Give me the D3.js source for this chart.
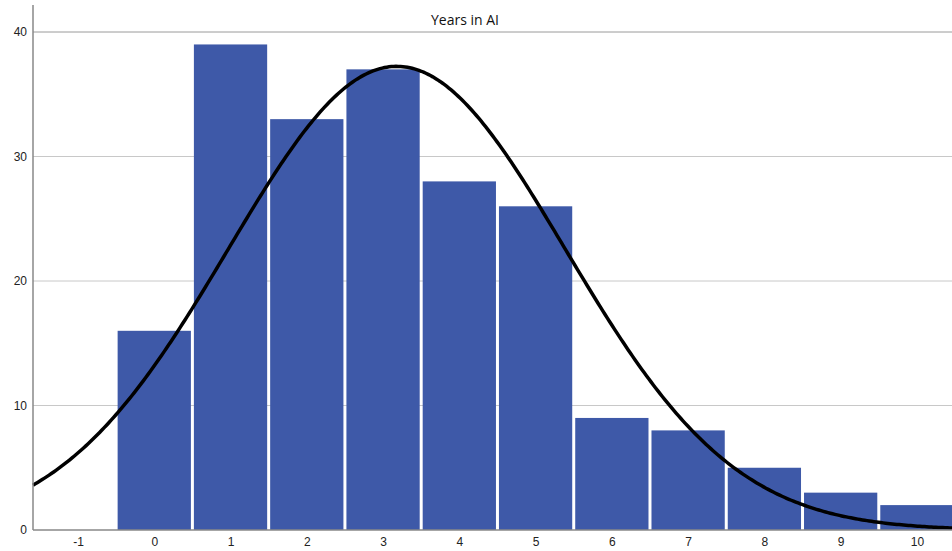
<!DOCTYPE html>
<html>
<head>
<meta charset="utf-8">
<script src="https://cdn.jsdelivr.net/npm/d3@7"></script>
<style>
  body { margin: 0; background: #fff; }
  svg { display: block; }
</style>
</head>
<body>
<div id="chart"></div>
<script>
// histogram of years in AI, bins centred on whole years
const years = [0, 1, 2, 3, 4, 5, 6, 7, 8, 9, 10];
const counts = [16, 39, 33, 37, 28, 26, 9, 8, 5, 3, 2];
const xTicks = [-1, 0, 1, 2, 3, 4, 5, 6, 7, 8, 9, 10];
const yTicks = [0, 10, 20, 30, 40];
const chartTitle = "Years in AI";

const width = 952, height = 551;
const margin = {top: 5, right: 0, bottom: 21, left: 33};

const svg = d3.select("#chart").append("svg")
  .attr("width", width)
  .attr("height", height);

const x = d3.scaleLinear()
  .domain([-1.59, 10.46])
  .range([margin.left, width - margin.right]);

const y = d3.scaleLinear()
  .domain([0, 40])
  .range([530, 32]);

// gridlines
svg.append("g")
  .selectAll("line")
  .data(yTicks.filter(d => d > 0))
  .join("line")
    .attr("x1", margin.left)
    .attr("x2", width)
    .attr("y1", d => y(d))
    .attr("y2", d => y(d))
    .attr("stroke", d => d === 40 ? "#9a9a9a" : "#c8c8c8")
    .attr("stroke-width", 1);

// bars
const gap = 1.5;
svg.append("g")
  .selectAll("rect")
  .data(years.map((yr, i) => ({yr, n: counts[i]})))
  .join("rect")
    .attr("x", d => x(d.yr - 0.5) + gap)
    .attr("width", d => x(d.yr + 0.5) - x(d.yr - 0.5) - 2 * gap)
    .attr("y", d => y(d.n))
    .attr("height", d => y(0) - y(d.n))
    .attr("fill", "#3e59a8");

// normal curve from the binned data
const N = d3.sum(counts);
const mean = d3.sum(years, (v, i) => v * counts[i]) / N;
const variance = d3.sum(years, (v, i) => counts[i] * (v - mean) ** 2) / (N - 1);
const sd = Math.sqrt(variance);
const normal = v => N / (sd * Math.sqrt(2 * Math.PI)) * Math.exp(-0.5 * ((v - mean) / sd) ** 2);

const curve = d3.range(0, 401).map(i => {
  const v = x.domain()[0] + (x.domain()[1] - x.domain()[0]) * i / 400;
  return [v, normal(v)];
});

svg.append("path")
  .datum(curve)
  .attr("fill", "none")
  .attr("stroke", "#000")
  .attr("stroke-width", 3.5)
  .attr("d", d3.line().x(d => x(d[0])).y(d => y(d[1])));

// axes
const yAxis = svg.append("g")
  .attr("transform", `translate(${margin.left},0)`)
  .call(d3.axisLeft(y).tickValues(yTicks).tickFormat(d => String(d)).tickSize(0).tickPadding(6));
yAxis.select(".domain").remove();
yAxis.selectAll("text")
  .attr("font-family", "Liberation Sans, Arial, sans-serif")
  .attr("font-size", 12)
  .attr("fill", "#222");

const xAxis = svg.append("g")
  .attr("transform", `translate(0,${y(0)})`)
  .call(d3.axisBottom(x).tickValues(xTicks).tickFormat(d => String(d)).tickSize(0).tickPadding(7));
xAxis.select(".domain").remove();
xAxis.selectAll("text")
  .attr("font-family", "Liberation Sans, Arial, sans-serif")
  .attr("font-size", 12)
  .attr("fill", "#222");

svg.append("line")
  .attr("x1", margin.left).attr("x2", margin.left)
  .attr("y1", margin.top).attr("y2", y(0))
  .attr("stroke", "#888").attr("stroke-width", 1.5);
svg.append("line")
  .attr("x1", margin.left).attr("x2", width)
  .attr("y1", y(0)).attr("y2", y(0))
  .attr("stroke", "#888").attr("stroke-width", 1.5);

// title
svg.append("text")
  .attr("x", 465)
  .attr("y", 25)
  .attr("text-anchor", "middle")
  .attr("font-family", "Open Sans, Liberation Sans, sans-serif")
  .attr("font-size", 14)
  .attr("fill", "#111")
  .text(chartTitle);
</script>
</body>
</html>
